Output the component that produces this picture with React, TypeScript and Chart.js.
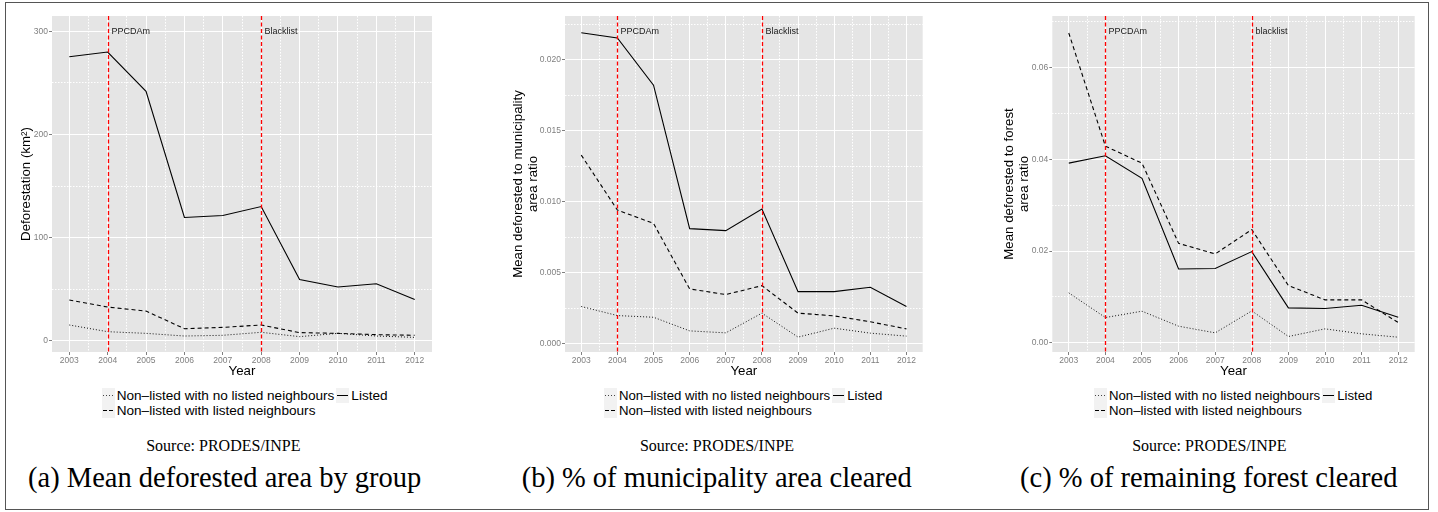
import React, { useEffect, useRef } from 'react';
import { Chart, registerables } from 'chart.js';

Chart.register(...registerables);

// ---------- data ----------
const years = [2003, 2004, 2005, 2006, 2007, 2008, 2009, 2010, 2011, 2012];

const areaListed = [275.5, 280, 241.9, 119.5, 121.4, 130.1, 59.4, 52, 55.2, 40];
const areaNeighbours = [39.4, 32.6, 28.7, 11.6, 12.9, 15.2, 7.8, 7.1, 5.8, 5.2];
const areaNoNeighbours = [15.2, 8.7, 7.1, 4.5, 5.2, 8.1, 3.9, 7.1, 4.5, 3.2];

const muniListed = [0.02192, 0.02155, 0.01822, 0.0081, 0.00796, 0.00948, 0.00366, 0.00366, 0.00397, 0.00261];
const muniNeighbours = [0.01329, 0.00941, 0.00847, 0.00385, 0.00345, 0.00408, 0.00214, 0.00195, 0.00153, 0.00103];
const muniNoNeighbours = [0.00261, 0.00197, 0.00185, 0.00089, 0.00075, 0.00214, 0.00045, 0.00108, 0.00073, 0.00052];

const forestListed = [0.0392, 0.0408, 0.0359, 0.0161, 0.0162, 0.0199, 0.00763, 0.00748, 0.00821, 0.00559];
const forestNeighbours = [0.0676, 0.0429, 0.0392, 0.0217, 0.0194, 0.0247, 0.0125, 0.00937, 0.00937, 0.00443];
const forestNoNeighbours = [0.0109, 0.00552, 0.0069, 0.00363, 0.00218, 0.00697, 0.00138, 0.00305, 0.00196, 0.00123];

const policyYears = [2004, 2008];
const policyLabelsAB = ['PPCDAm', 'Blacklist'];
const policyLabelsC = ['PPCDAm', 'blacklist'];

const seriesNames = ['Non\u2013listed with no listed neighbours', 'Non\u2013listed with listed neighbours', 'Listed'];

const yTitles: (string | string[])[] = [
  'Deforestation (km\u00b2)',
  ['Mean deforested to municipality', 'area ratio'],
  ['Mean deforested to forest', 'area ratio'],
];
const yMajorSteps = [100, 0.005, 0.02];
const yMinorSteps = [50, 0.0025, 0.01];
const yDecimals = [0, 3, 2];
const yMins = [-11, -0.0006, -0.002];
const yMaxs = [315, 0.0231, 0.0713];
const labelYs = [300, 0.022, 0.068];

const captions = ['(a) Mean deforested area by group', '(b) % of municipality area cleared', '(c) % of remaining forest cleared'];
const sourceText = 'Source: PRODES/INPE';

// ---------- layout ----------
const SANS = '"Liberation Sans", Arial, Helvetica, sans-serif';
const SERIF = '"Liberation Serif", "Times New Roman", serif';

type PanelLayout = {
  canvasLeft: number; canvasWidth: number; yAxisWidth: number; padRight: number; yTitlePad: number;
  legendLeft: number; legendFont: number; center: number; sourceCenter: number;
};

const layouts: PanelLayout[] = [
  { canvasLeft: 0, canvasWidth: 440, yAxisWidth: 52, padRight: 8, yTitlePad: 18.5, legendLeft: 101.7, legendFont: 13.6, center: 224.7, sourceCenter: 223.3 },
  { canvasLeft: 470, canvasWidth: 460, yAxisWidth: 95, padRight: 7.3, yTitlePad: 40.8, legendLeft: 604, legendFont: 13.2, center: 716.7, sourceCenter: 717 },
  { canvasLeft: 960, canvasWidth: 465, yAxisWidth: 92.3, padRight: 10.3, yTitlePad: 42.2, legendLeft: 1094, legendFont: 13.2, center: 1208.8, sourceCenter: 1209.3 },
];

const CANVAS_H = 380;

const isMult = (v: number, step: number) => Math.abs(v / step - Math.round(v / step)) < 1e-6;

const decoPlugin = {
  id: 'deco',
  beforeDraw(chart: any) {
    const { ctx, chartArea } = chart;
    ctx.save();
    ctx.fillStyle = '#E5E5E5';
    ctx.fillRect(chartArea.left, chartArea.top, chartArea.right - chartArea.left, chartArea.bottom - chartArea.top);
    ctx.restore();
  },
  afterDatasetsDraw(chart: any, _args: any, opts: any) {
    const { ctx, chartArea, scales } = chart;
    ctx.save();
    (opts.years as number[]).forEach((yr: number, i: number) => {
      const x = Math.round(scales.x.getPixelForValue(yr)) + 0.5;
      ctx.strokeStyle = '#FF0000';
      ctx.lineWidth = 1.3;
      ctx.setLineDash([4, 2.5]);
      ctx.beginPath();
      ctx.moveTo(x, chartArea.top);
      ctx.lineTo(x, chartArea.bottom);
      ctx.stroke();
      ctx.setLineDash([]);
      ctx.fillStyle = '#1a1a1a';
      ctx.font = '9px ' + SANS;
      ctx.textAlign = 'left';
      ctx.textBaseline = 'middle';
      ctx.fillText(opts.labels[i], x + 3, scales.y.getPixelForValue(opts.labelY));
    });
    ctx.restore();
  },
};

function makeConfig(idx: number, listed: number[], nb: number[], noNb: number[], labels: string[]): any {
  const L = layouts[idx];
  const pts = (arr: number[]) => years.map((x, i) => ({ x, y: arr[i] }));
  const majorY = yMajorSteps[idx];
  const gridColor = (major: boolean) => (major ? '#FFFFFF' : '#FFFFFF');
  return {
    type: 'line',
    data: {
      datasets: [
        { label: seriesNames[0], data: pts(noNb), borderColor: '#111', borderWidth: 1, borderDash: [1, 2], pointRadius: 0, tension: 0 },
        { label: seriesNames[1], data: pts(nb), borderColor: '#000', borderWidth: 1.1, borderDash: [4, 3], pointRadius: 0, tension: 0 },
        { label: seriesNames[2], data: pts(listed), borderColor: '#000', borderWidth: 1.1, pointRadius: 0, tension: 0 },
      ],
    },
    options: {
      animation: false,
      responsive: false,
      maintainAspectRatio: false,
      layout: { padding: { left: 0, right: L.padRight, top: 16, bottom: 0 } },
      plugins: {
        legend: { display: false },
        tooltip: { enabled: false },
        deco: { years: policyYears, labels, labelY: labelYs[idx] },
      },
      scales: {
        x: {
          type: 'linear',
          min: 2002.55,
          max: 2012.45,
          afterFit: (s: any) => { s.height = 28; },
          ticks: {
            stepSize: 0.5,
            autoSkip: false,
            maxRotation: 0,
            minRotation: 0,
            includeBounds: false,
            padding: 1,
            color: '#7F7F7F',
            font: { family: SANS, size: 8.5 },
            callback: (v: number) => (isMult(v, 1) ? String(Math.round(v)) : ''),
          },
          grid: {
            color: (c: any) => gridColor(isMult(c.tick.value, 1)),
            lineWidth: 1,
            tickLength: 3,
            tickWidth: 1,
            tickColor: (c: any) => (isMult(c.tick.value, 1) ? '#7F7F7F' : 'rgba(0,0,0,0)'),
          },
          border: { display: false, dash: (c: any) => (c.tick && isMult(c.tick.value, 1) ? [] : [1.5, 1.5]) },
          title: {
            display: true,
            text: 'Year',
            color: '#000',
            font: { family: SANS, size: 13.3, lineHeight: 1.13 },
            padding: { top: 0, bottom: 1 },
          },
        },
        y: {
          type: 'linear',
          min: yMins[idx],
          max: yMaxs[idx],
          afterFit: (s: any) => { s.width = L.yAxisWidth; },
          ticks: {
            stepSize: yMinorSteps[idx],
            autoSkip: false,
            includeBounds: false,
            padding: 1,
            color: '#7F7F7F',
            font: { family: SANS, size: 8.5 },
            callback: (v: number) => (isMult(v, majorY) ? v.toFixed(yDecimals[idx]) : ''),
          },
          grid: {
            color: (c: any) => gridColor(isMult(c.tick.value, majorY)),
            lineWidth: 1,
            tickLength: 3,
            tickWidth: 1,
            tickColor: (c: any) => (isMult(c.tick.value, majorY) ? '#7F7F7F' : 'rgba(0,0,0,0)'),
          },
          border: { display: false, dash: (c: any) => (c.tick && isMult(c.tick.value, majorY) ? [] : [1.5, 1.5]) },
          title: {
            display: true,
            text: yTitles[idx],
            color: '#000',
            font: { family: SANS, size: 13.3, lineHeight: 1.13 },
            padding: { top: L.yTitlePad, bottom: 0 },
          },
        },
      },
    },
    plugins: [decoPlugin],
  };
}

function Panel({ idx, listed, nb, noNb, labels }: { idx: number; listed: number[]; nb: number[]; noNb: number[]; labels: string[] }) {
  const ref = useRef<HTMLCanvasElement | null>(null);
  useEffect(() => {
    if (!ref.current) return;
    const chart = new Chart(ref.current, makeConfig(idx, listed, nb, noNb, labels));
    return () => chart.destroy();
  }, []);
  const L = layouts[idx];
  return (
    <canvas
      ref={ref}
      width={L.canvasWidth}
      height={CANVAS_H}
      style={{ position: 'absolute', left: L.canvasLeft, top: 0, width: L.canvasWidth, height: CANVAS_H }}
    />
  );
}

const keyPatterns = [
  'repeating-linear-gradient(to right, #444 0 1px, transparent 1px 3px)',
  'repeating-linear-gradient(to right, #000 0 4px, transparent 4px 6px)',
  '#000',
];

function Key({ pattern }: { pattern: number }) {
  return (
    <div style={{ width: 13, height: 15, background: '#F2F2F2', position: 'relative', flex: '0 0 auto' }}>
      <div style={{ position: 'absolute', left: 1, right: 1, top: 7, height: 1, background: keyPatterns[pattern] }} />
    </div>
  );
}

function Legend({ idx }: { idx: number }) {
  const L = layouts[idx];
  const txt: React.CSSProperties = { fontFamily: SANS, fontSize: L.legendFont, lineHeight: '15px', whiteSpace: 'nowrap', paddingLeft: 2, paddingRight: 2 };
  return (
    <div
      style={{
        position: 'absolute',
        left: L.legendLeft,
        top: 388,
        display: 'grid',
        gridTemplateColumns: 'auto auto auto auto',
        gridAutoRows: '15px',
        alignItems: 'center',
        justifyContent: 'start',
      }}
    >
      <Key pattern={0} />
      <div style={txt}>{seriesNames[0]}</div>
      <Key pattern={2} />
      <div style={txt}>{seriesNames[2]}</div>
      <Key pattern={1} />
      <div style={txt}>{seriesNames[1]}</div>
    </div>
  );
}

export default function App() {
  const panelData = [
    { listed: areaListed, nb: areaNeighbours, noNb: areaNoNeighbours, labels: policyLabelsAB },
    { listed: muniListed, nb: muniNeighbours, noNb: muniNoNeighbours, labels: policyLabelsAB },
    { listed: forestListed, nb: forestNeighbours, noNb: forestNoNeighbours, labels: policyLabelsC },
  ];
  return (
    <div style={{ position: 'absolute', left: 0, top: 0, width: 1438, height: 512, background: '#fff', overflow: 'hidden' }}>
      <div
        style={{
          position: 'absolute', left: 5, top: 2, width: 1424, height: 508,
          border: '1.5px solid #555', boxSizing: 'border-box',
        }}
      />
      {panelData.map((d, i) => (
        <Panel key={i} idx={i} listed={d.listed} nb={d.nb} noNb={d.noNb} labels={d.labels} />
      ))}
      {panelData.map((_, i) => (
        <Legend key={'lg' + i} idx={i} />
      ))}
      {layouts.map((L, i) => (
        <div
          key={'src' + i}
          style={{
            position: 'absolute', left: L.sourceCenter - 150, width: 300, top: 437.6, textAlign: 'center',
            fontFamily: SERIF, fontSize: 16, lineHeight: 1, whiteSpace: 'nowrap',
          }}
        >
          {sourceText}
        </div>
      ))}
      {layouts.map((L, i) => (
        <div
          key={'cap' + i}
          style={{
            position: 'absolute', left: L.center - 250, width: 500, top: 464, textAlign: 'center',
            fontFamily: SERIF, fontSize: 28.5, lineHeight: 1, whiteSpace: 'nowrap',
          }}
        >
          {captions[i]}
        </div>
      ))}
    </div>
  );
}
